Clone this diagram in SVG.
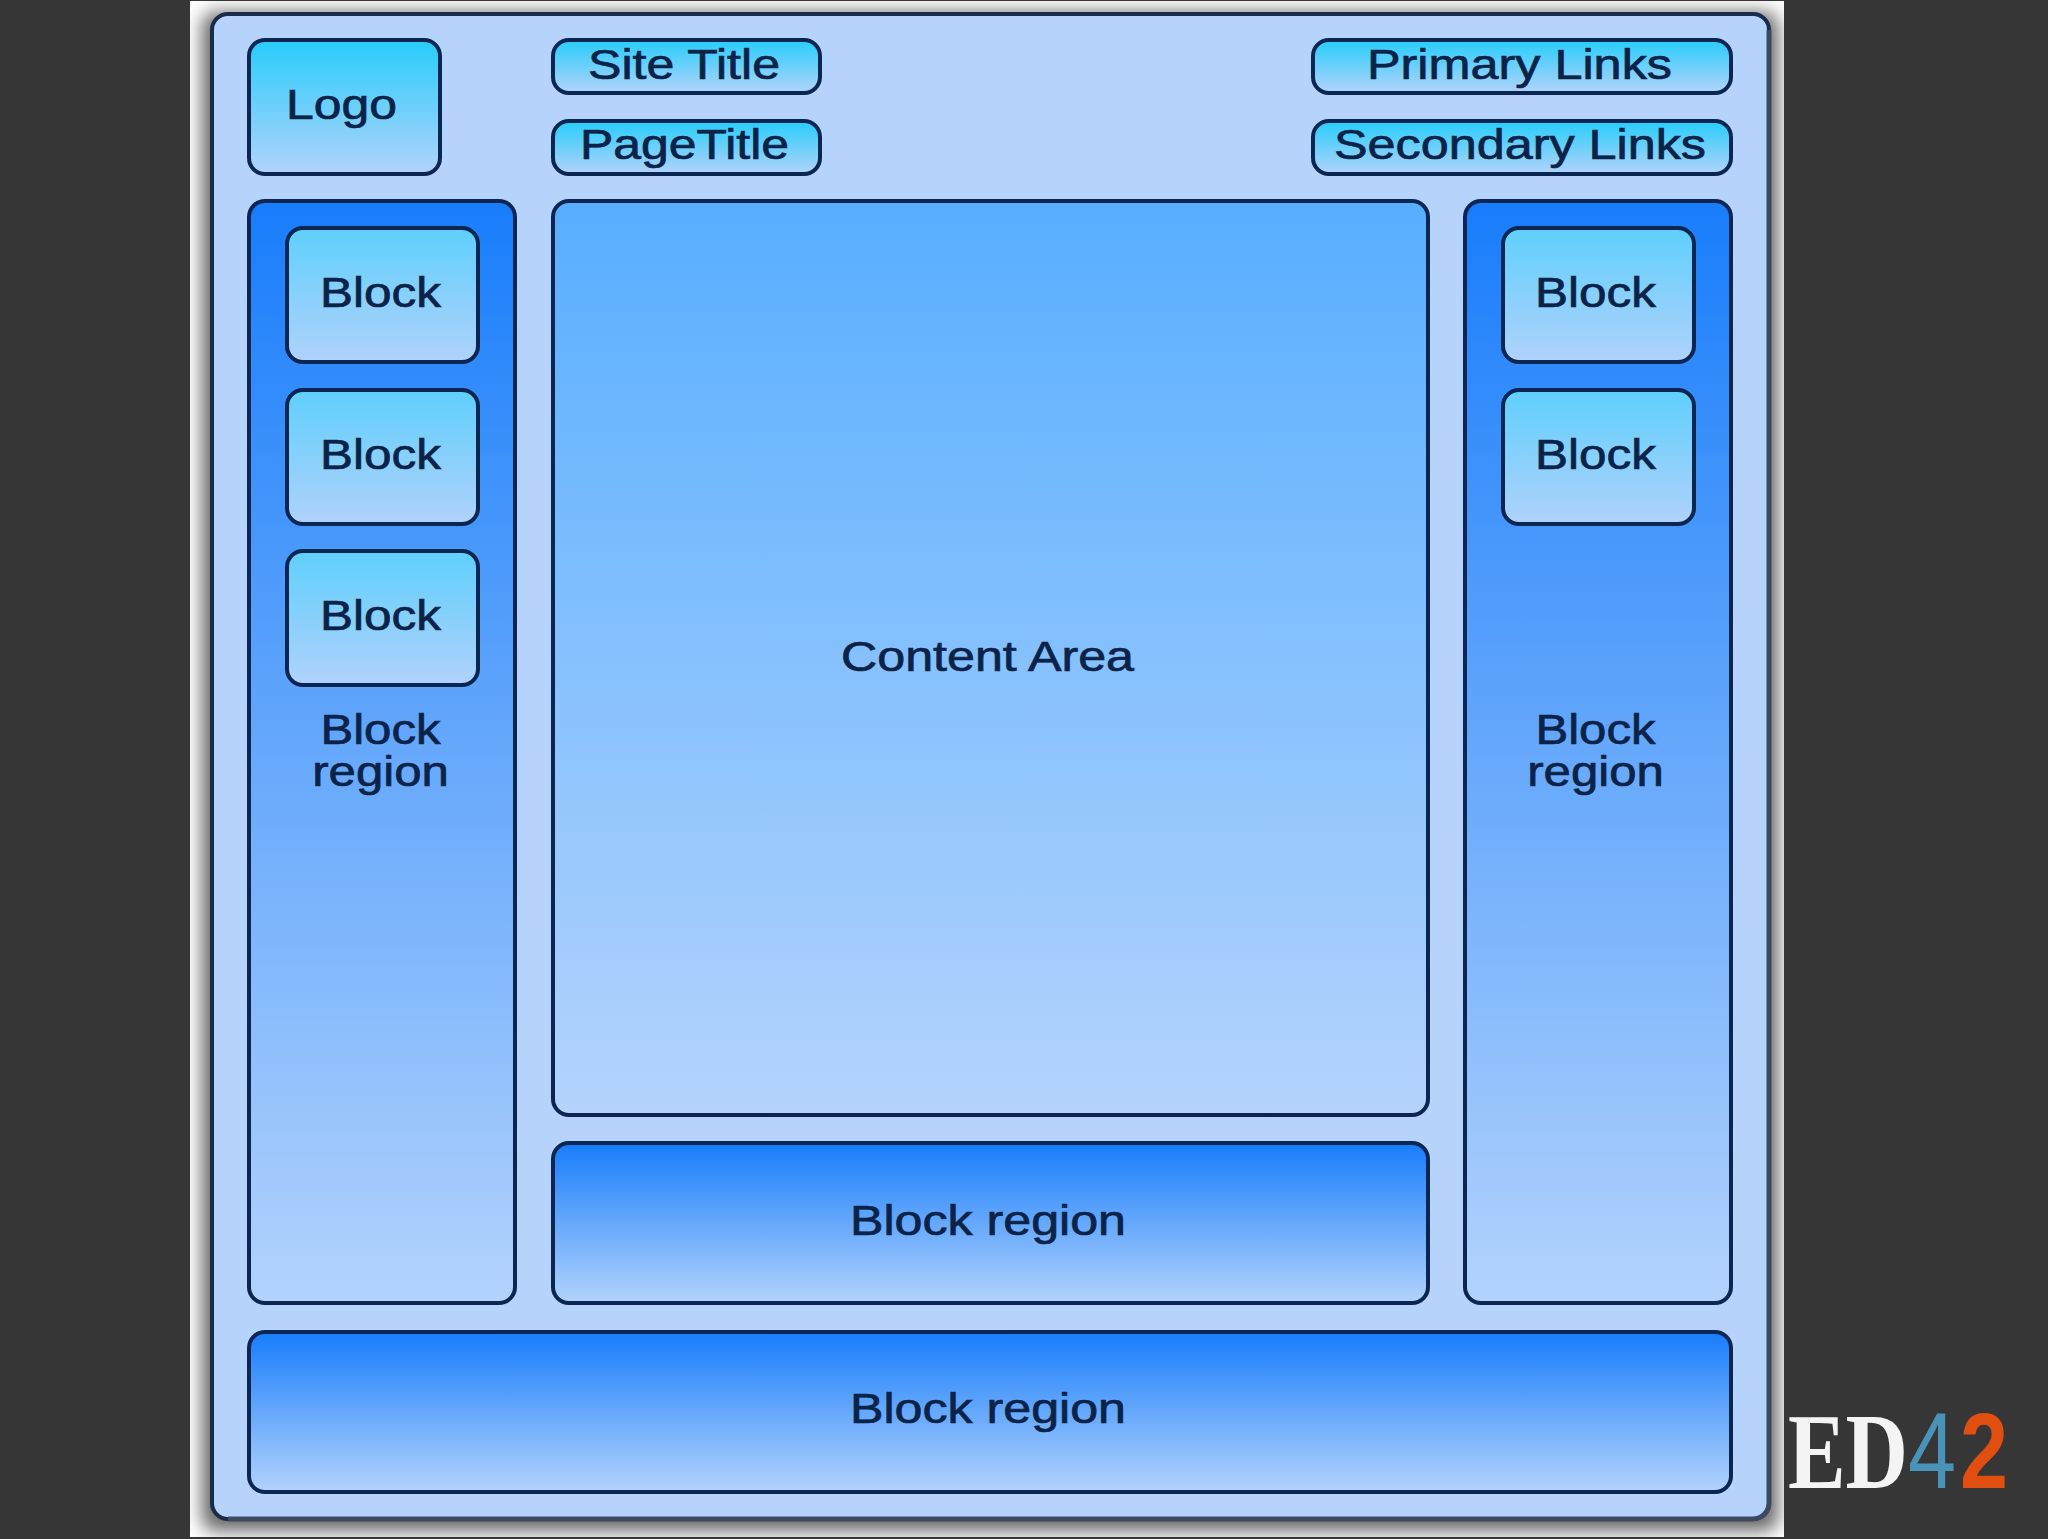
<svg xmlns="http://www.w3.org/2000/svg" width="2048" height="1539" viewBox="0 0 2048 1539">
<defs>
<linearGradient id="gLogo" x1="0" y1="0" x2="0" y2="1"><stop offset="0" stop-color="#27cdfb"/><stop offset="1" stop-color="#b2d3fb"/></linearGradient>
<linearGradient id="gBlock" x1="0" y1="0" x2="0" y2="1"><stop offset="0" stop-color="#5fcffc"/><stop offset="1" stop-color="#b0d2fb"/></linearGradient>
<linearGradient id="gRegion" x1="0" y1="0" x2="0" y2="1"><stop offset="0" stop-color="#187dfb"/><stop offset="1" stop-color="#b3d3fc"/></linearGradient>
<linearGradient id="gContent" x1="0" y1="0" x2="0" y2="1"><stop offset="0" stop-color="#57aeff"/><stop offset="1" stop-color="#b4d3fc"/></linearGradient>
<filter id="soft" x="-5%" y="-5%" width="110%" height="110%"><feGaussianBlur stdDeviation="9"/></filter>
<clipPath id="pageClip"><rect x="190" y="1" width="1594" height="1536"/></clipPath>
</defs>
<style>
text{font-family:"Liberation Sans",Arial,sans-serif;font-size:42px;fill:#0b2348;stroke:#0b2348;stroke-width:.7px}
.box{stroke:#0b2650;stroke-width:4}
.logo{fill:url(#gLogo)}
.block{fill:url(#gBlock)}
.region{fill:url(#gRegion)}
.content{fill:url(#gContent)}
.two{text-anchor:middle}
</style>
<rect width="2048" height="1539" fill="#363636"/>
<g id="page">
<rect x="190" y="1" width="1594" height="1536" fill="#ffffff"/>
<g clip-path="url(#pageClip)"><rect x="202" y="12" width="1576" height="1519" rx="14" fill="#666" filter="url(#soft)"/></g>
<rect x="212" y="14" width="1557" height="1505" rx="16" fill="#b6d3fb" stroke="#1a2c4c" stroke-width="4"/>
<path d="M1769 30V1503a16 16 0 0 1-16 16H228" fill="none" stroke="#3c4a60" stroke-width="5"/>
</g>
<g id="logo"><rect class="box logo" x="249" y="40" width="191" height="134" rx="16"/><text x="286" y="119" textLength="111" lengthAdjust="spacingAndGlyphs">Logo</text></g>
<g id="site-title"><rect class="box logo" x="553" y="40" width="267" height="53" rx="16"/><text x="588" y="79" textLength="192" lengthAdjust="spacingAndGlyphs">Site Title</text></g>
<g id="page-title"><rect class="box logo" x="553" y="121" width="267" height="53" rx="16"/><text x="580" y="159" textLength="209" lengthAdjust="spacingAndGlyphs">PageTitle</text></g>
<g id="primary-links"><rect class="box logo" x="1313" y="40" width="418" height="53" rx="16"/><text x="1367" y="79" textLength="305" lengthAdjust="spacingAndGlyphs">Primary Links</text></g>
<g id="secondary-links"><rect class="box logo" x="1313" y="121" width="418" height="53" rx="16"/><text x="1334" y="159" textLength="372" lengthAdjust="spacingAndGlyphs">Secondary Links</text></g>
<g id="left-region"><rect class="box region" x="249" y="201" width="266" height="1102" rx="16"/><text class="two" transform="translate(380.5 0) scale(1.17 1)"><tspan x="0" y="744">Block</tspan><tspan x="0" y="786">region</tspan></text></g>
<g id="left-block-1"><rect class="box block" x="287" y="228" width="191" height="134" rx="16"/><text x="320" y="307" textLength="121" lengthAdjust="spacingAndGlyphs">Block</text></g>
<g id="left-block-2"><rect class="box block" x="287" y="390" width="191" height="134" rx="16"/><text x="320" y="469" textLength="121" lengthAdjust="spacingAndGlyphs">Block</text></g>
<g id="left-block-3"><rect class="box block" x="287" y="551" width="191" height="134" rx="16"/><text x="320" y="630" textLength="121" lengthAdjust="spacingAndGlyphs">Block</text></g>
<g id="content-area"><rect class="box content" x="553" y="201" width="875" height="914" rx="16"/><text x="841" y="671" textLength="293" lengthAdjust="spacingAndGlyphs">Content Area</text></g>
<g id="center-region"><rect class="box region" x="553" y="1143" width="875" height="160" rx="16"/><text x="850" y="1235" textLength="276" lengthAdjust="spacingAndGlyphs">Block region</text></g>
<g id="right-region"><rect class="box region" x="1465" y="201" width="266" height="1102" rx="16"/><text class="two" transform="translate(1595.5 0) scale(1.17 1)"><tspan x="0" y="744">Block</tspan><tspan x="0" y="786">region</tspan></text></g>
<g id="right-block-1"><rect class="box block" x="1503" y="228" width="191" height="134" rx="16"/><text x="1535" y="307" textLength="121" lengthAdjust="spacingAndGlyphs">Block</text></g>
<g id="right-block-2"><rect class="box block" x="1503" y="390" width="191" height="134" rx="16"/><text x="1535" y="469" textLength="121" lengthAdjust="spacingAndGlyphs">Block</text></g>
<g id="bottom-region"><rect class="box region" x="249" y="1332" width="1482" height="160" rx="16"/><text x="850" y="1423" textLength="276" lengthAdjust="spacingAndGlyphs">Block region</text></g>
<g id="brand">
<text transform="translate(1788 1488) scale(.8 1)" style="font-size:108px;stroke:none;fill:#f4f4f4"><tspan x="0" style="font-family:'Liberation Serif',serif;font-weight:bold">ED</tspan><tspan x="150" style="fill:#4a93b8">4</tspan><tspan x="215" style="font-weight:bold;fill:#e04e10">2</tspan></text>
</g>
</svg>
